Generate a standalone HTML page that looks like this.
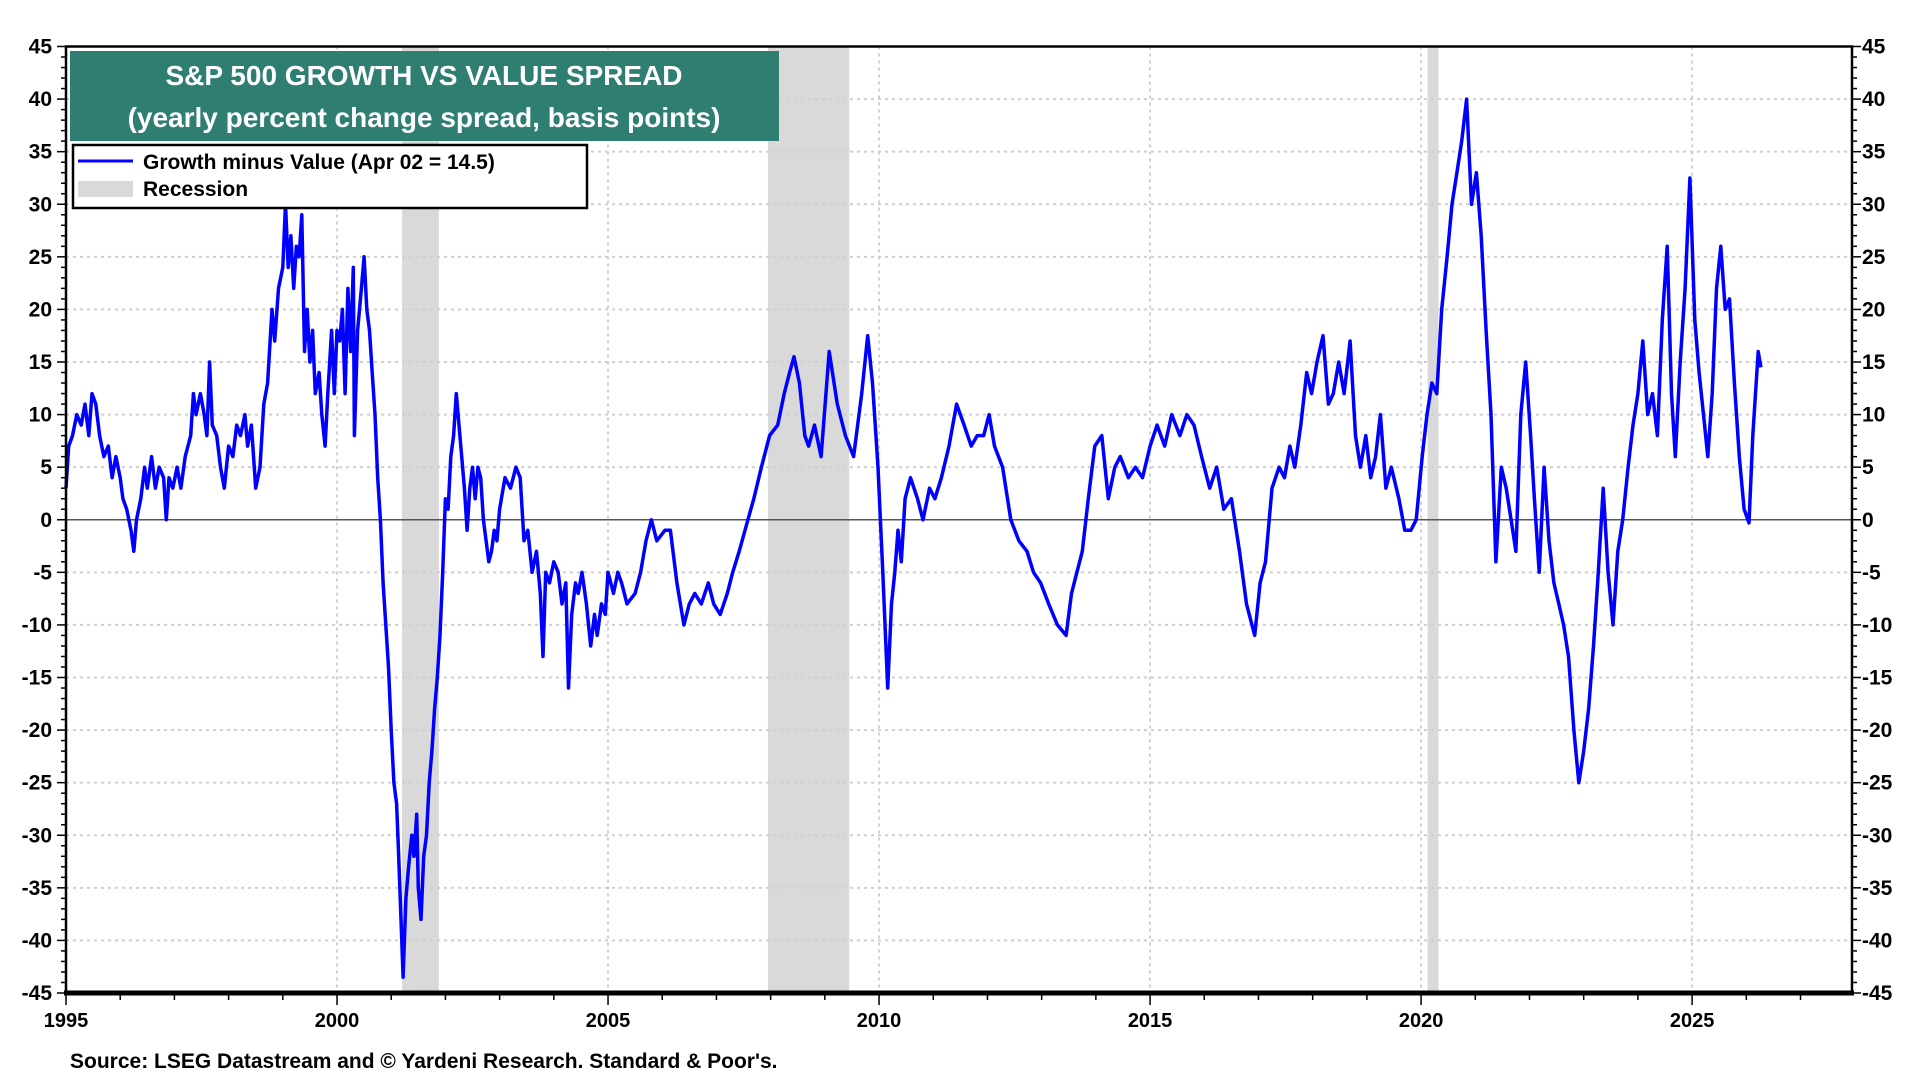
<!DOCTYPE html>
<html><head><meta charset="utf-8"><title>S&P 500 Growth vs Value Spread</title>
<style>
html,body{margin:0;padding:0;background:#fff;}
svg{display:block;font-family:"Liberation Sans",Arial,sans-serif;}
</style></head>
<body>
<svg id="chart" width="1920" height="1080" viewBox="0 0 1920 1080">
  <g id="recessions"></g>
  <g id="grid"></g>
  <line id="zero" stroke="#555" stroke-width="1.5"/>
  <polyline id="series" fill="none" stroke="#0000ff" stroke-width="3.5" stroke-linejoin="round"/>
  <g id="axes"></g>
  <g>
    <rect x="70" y="51" width="709" height="90" fill="#2e7f72"/>
    <text x="424" y="85" text-anchor="middle" fill="#fff" font-size="28" font-weight="bold">S&amp;P 500 GROWTH VS VALUE SPREAD</text>
    <text x="424" y="127" text-anchor="middle" fill="#fff" font-size="28" font-weight="bold">(yearly percent change spread, basis points)</text>
  </g>
  <g>
    <rect x="73" y="145" width="514" height="63" fill="#fff" stroke="#000" stroke-width="2.5"/>
    <g>
      <line x1="78" y1="161" x2="133" y2="161" stroke="#0000ff" stroke-width="3"/>
      <text x="143" y="169" font-size="21" font-weight="bold">Growth minus Value (Apr 02 = 14.5)</text>
    </g>
    <g>
      <rect x="78" y="181" width="55" height="16" fill="#d9d9d9"/>
      <text x="143" y="196" font-size="21" font-weight="bold">Recession</text>
    </g>
  </g>
  <text x="70" y="1068" font-size="21" font-weight="bold">Source: LSEG Datastream and © Yardeni Research. Standard &amp; Poor's.</text>
</svg>
<script>
const recessionStarts = [2001.2, 2007.95, 2020.12];
const recessionEnds = [2001.88, 2009.45, 2020.32];
const yTicks = [45,40,35,30,25,20,15,10,5,0,-5,-10,-15,-20,-25,-30,-35,-40,-45];
const xTickYears = [1995,2000,2005,2010,2015,2020,2025];
// [date, spread] pairs
const series1995to2002 = [[1995.00,3],[1995.05,7],[1995.12,8],[1995.2,10],[1995.28,9],[1995.35,11],[1995.42,8],[1995.48,12],[1995.55,11],[1995.62,8],[1995.7,6],[1995.78,7],[1995.85,4],[1995.92,6],[1996.0,4],[1996.05,2],[1996.12,1],[1996.2,-1],[1996.25,-3],[1996.3,0],[1996.38,2],[1996.45,5],[1996.5,3],[1996.58,6],[1996.65,3],[1996.72,5],[1996.8,4],[1996.85,0],[1996.9,4],[1996.97,3],[1997.05,5],[1997.12,3],[1997.2,6],[1997.3,8],[1997.35,12],[1997.4,10],[1997.48,12],[1997.55,10],[1997.6,8],[1997.65,15],[1997.7,9],[1997.78,8],[1997.85,5],[1997.92,3],[1998.0,7],[1998.08,6],[1998.15,9],[1998.22,8],[1998.3,10],[1998.35,7],[1998.42,9],[1998.5,3],[1998.58,5],[1998.65,11],[1998.72,13],[1998.8,20],[1998.85,17],[1998.92,22],[1999.0,24],[1999.05,30],[1999.1,24],[1999.15,27],[1999.2,22],[1999.25,26],[1999.3,25],[1999.35,29],[1999.4,16],[1999.45,20],[1999.5,15],[1999.55,18],[1999.6,12],[1999.67,14],[1999.72,10],[1999.78,7],[1999.83,12],[1999.9,18],[1999.95,12],[2000.0,18],[2000.05,17],[2000.1,20],[2000.15,12],[2000.2,22],[2000.25,16],[2000.3,24],[2000.32,8],[2000.38,18],[2000.45,22],[2000.5,25],[2000.55,20],[2000.6,18],[2000.65,14],[2000.7,10],[2000.75,4],[2000.8,0],[2000.85,-6],[2000.9,-10],[2000.95,-14],[2001.0,-20],[2001.05,-25],[2001.1,-27],[2001.13,-31],[2001.18,-38],[2001.22,-43.5],[2001.27,-36],[2001.32,-33],[2001.38,-30],[2001.42,-32],[2001.47,-28],[2001.5,-35],[2001.55,-38],[2001.6,-32],[2001.65,-30],[2001.7,-25],[2001.75,-22],[2001.8,-18],[2001.85,-15],[2001.9,-11],[2001.95,-5]];
const series2002to2010 = [[2002.0,2],[2002.05,1],[2002.1,6],[2002.15,8],[2002.2,12],[2002.25,9],[2002.3,6],[2002.35,3],[2002.4,-1],[2002.45,3],[2002.5,5],[2002.55,2],[2002.6,5],[2002.65,4],[2002.7,0],[2002.75,-2],[2002.8,-4],[2002.85,-3],[2002.9,-1],[2002.95,-2],[2003.0,1],[2003.1,4],[2003.2,3],[2003.3,5],[2003.38,4],[2003.45,-2],[2003.52,-1],[2003.6,-5],[2003.68,-3],[2003.75,-7],[2003.8,-13],[2003.85,-5],[2003.92,-6],[2004.0,-4],[2004.08,-5],[2004.15,-8],[2004.22,-6],[2004.27,-16],[2004.33,-9],[2004.4,-6],[2004.45,-7],[2004.52,-5],[2004.6,-8],[2004.68,-12],[2004.75,-9],[2004.8,-11],[2004.88,-8],[2004.95,-9],[2005.0,-5],[2005.1,-7],[2005.18,-5],[2005.25,-6],[2005.35,-8],[2005.5,-7],[2005.6,-5],[2005.7,-2],[2005.8,0],[2005.9,-2],[2006.05,-1],[2006.15,-1],[2006.27,-6],[2006.4,-10],[2006.5,-8],[2006.6,-7],[2006.72,-8],[2006.85,-6],[2006.95,-8],[2007.07,-9],[2007.2,-7],[2007.3,-5],[2007.42,-3],[2007.58,0],[2007.69,2],[2007.83,5],[2007.98,8],[2008.13,9],[2008.25,12],[2008.35,14],[2008.43,15.5],[2008.53,13],[2008.63,8],[2008.7,7],[2008.81,9],[2008.93,6],[2009.08,16],[2009.23,11],[2009.38,8],[2009.53,6],[2009.68,12],[2009.79,17.5],[2009.88,13],[2009.98,5],[2010.07,-5]];
const series2010to2018 = [[2010.16,-16],[2010.23,-8],[2010.29,-5],[2010.35,-1],[2010.41,-4],[2010.48,2],[2010.58,4],[2010.71,2],[2010.81,0],[2010.93,3],[2011.03,2],[2011.15,4],[2011.29,7],[2011.43,11],[2011.57,9],[2011.7,7],[2011.81,8],[2011.93,8],[2012.03,10],[2012.13,7],[2012.28,5],[2012.43,0],[2012.58,-2],[2012.73,-3],[2012.85,-5],[2012.98,-6],[2013.13,-8],[2013.29,-10],[2013.45,-11],[2013.55,-7],[2013.65,-5],[2013.75,-3],[2013.86,2],[2013.98,7],[2014.11,8],[2014.23,2],[2014.35,5],[2014.45,6],[2014.6,4],[2014.73,5],[2014.86,4],[2015.0,7],[2015.13,9],[2015.27,7],[2015.4,10],[2015.55,8],[2015.68,10],[2015.81,9],[2015.95,6],[2016.1,3],[2016.23,5],[2016.36,1],[2016.5,2],[2016.65,-3],[2016.78,-8],[2016.93,-11],[2017.03,-6],[2017.13,-4],[2017.25,3],[2017.38,5],[2017.48,4],[2017.58,7],[2017.67,5],[2017.78,9],[2017.89,14],[2017.98,12],[2018.08,15],[2018.19,17.5],[2018.29,11],[2018.38,12],[2018.48,15],[2018.58,12],[2018.69,17]];
const series2018to2026 = [[2018.79,8],[2018.88,5],[2018.98,8],[2019.07,4],[2019.16,6],[2019.25,10],[2019.35,3],[2019.45,5],[2019.59,2],[2019.7,-1],[2019.81,-1],[2019.91,0],[2020.02,6],[2020.11,10],[2020.2,13],[2020.29,12],[2020.38,20],[2020.48,25],[2020.57,30],[2020.66,33],[2020.75,36],[2020.84,40],[2020.93,30],[2021.02,33],[2021.11,27],[2021.2,18],[2021.29,10],[2021.38,-4],[2021.48,5],[2021.57,3],[2021.66,0],[2021.75,-3],[2021.84,10],[2021.93,15],[2022.02,8],[2022.09,2],[2022.18,-5],[2022.27,5],[2022.36,-2],[2022.45,-6],[2022.54,-8],[2022.63,-10],[2022.72,-13],[2022.82,-20],[2022.91,-25],[2023.0,-22],[2023.09,-18],[2023.18,-12],[2023.27,-5],[2023.36,3],[2023.45,-5],[2023.54,-10],[2023.63,-3],[2023.72,0],[2023.82,5],[2023.91,9],[2024.0,12],[2024.09,17],[2024.18,10],[2024.27,12],[2024.36,8],[2024.45,19],[2024.54,26],[2024.62,12],[2024.69,6],[2024.78,15],[2024.87,22],[2024.96,32.5],[2025.05,19],[2025.13,14],[2025.21,10],[2025.29,6],[2025.37,12],[2025.45,22],[2025.53,26],[2025.61,20],[2025.69,21],[2025.78,13],[2025.87,6],[2025.96,1],[2026.05,-0.3],[2026.12,8],[2026.22,16],[2026.27,14.5]];

const L=66,R=1852,T=46.5,B=993, X0=1995, X1=2027.95;
const xs = yr => L + (yr - X0) * (R - L) / (X1 - X0);
const ys = v => T + (45 - v) * (B - T) / 90;
const NS='http://www.w3.org/2000/svg';
function mk(tag, parent, attrs){const e=document.createElementNS(NS,tag);for(const k in attrs)e.setAttribute(k,attrs[k]);parent.appendChild(e);return e;}

const rec=document.getElementById('recessions');
recessionStarts.forEach((s,i)=>{
  const r=mk('rect',rec,{x:xs(s),y:T,width:xs(recessionEnds[i])-xs(s),height:B-T,fill:'#d9d9d9'});
  
  
});
const grid=document.getElementById('grid');
yTicks.forEach(v=>{
  if(v===45||v===-45||v===0) return;
  const g=mk('line',grid,{x1:L,x2:R,y1:ys(v),y2:ys(v),stroke:'#cfcfcf','stroke-width':2,'stroke-dasharray':'3 4'});
  
  
});
xTickYears.forEach(y=>{
  if(y===1995) return;
  const g=mk('line',grid,{x1:xs(y),x2:xs(y),y1:T,y2:B,stroke:'#cfcfcf','stroke-width':2,'stroke-dasharray':'3 4'});
  
  
});
const z=document.getElementById('zero');
z.setAttribute('x1',L);z.setAttribute('x2',R);z.setAttribute('y1',ys(0));z.setAttribute('y2',ys(0));

const allPoints = series1995to2002.concat(series2002to2010, series2010to2018, series2018to2026);
document.getElementById('series').setAttribute('points', allPoints.map(p=>xs(p[0]).toFixed(1)+','+ys(p[1]).toFixed(1)).join(' '));

const ax=document.getElementById('axes');
mk('rect',ax,{x:L,y:T,width:R-L,height:B-T,fill:'none',stroke:'#000','stroke-width':2.5});
mk('line',ax,{x1:L-2,x2:R+2,y1:B,y2:B,stroke:'#000','stroke-width':5});
for(let v=-45;v<=45;v++){
  const len = v%5===0?9:5;
  mk('line',ax,{x1:L-len,x2:L,y1:ys(v),y2:ys(v),stroke:'#000','stroke-width':1.5});
  mk('line',ax,{x1:R,x2:R+len,y1:ys(v),y2:ys(v),stroke:'#000','stroke-width':1.5});
}
yTicks.forEach(v=>{
  const t1=mk('text',ax,{x:L-14,y:ys(v)+7,'text-anchor':'end','font-size':21,'font-weight':'bold'});
  t1.textContent=v;
  
  
  const t2=mk('text',ax,{x:R+10,y:ys(v)+7,'text-anchor':'start','font-size':21,'font-weight':'bold'});
  t2.textContent=v;
  
  
});
for(let y=1995;y<=2027;y++){
  const len = y%5===0?12:7;
  mk('line',ax,{x1:xs(y),x2:xs(y),y1:B,y2:B+len,stroke:'#000','stroke-width':1.5});
}
xTickYears.forEach(y=>{
  const t=mk('text',ax,{x:xs(y),y:1027,'text-anchor':'middle','font-size':20,'font-weight':'bold'});
  t.textContent=y;
  
  
});
</script>
</body></html>
